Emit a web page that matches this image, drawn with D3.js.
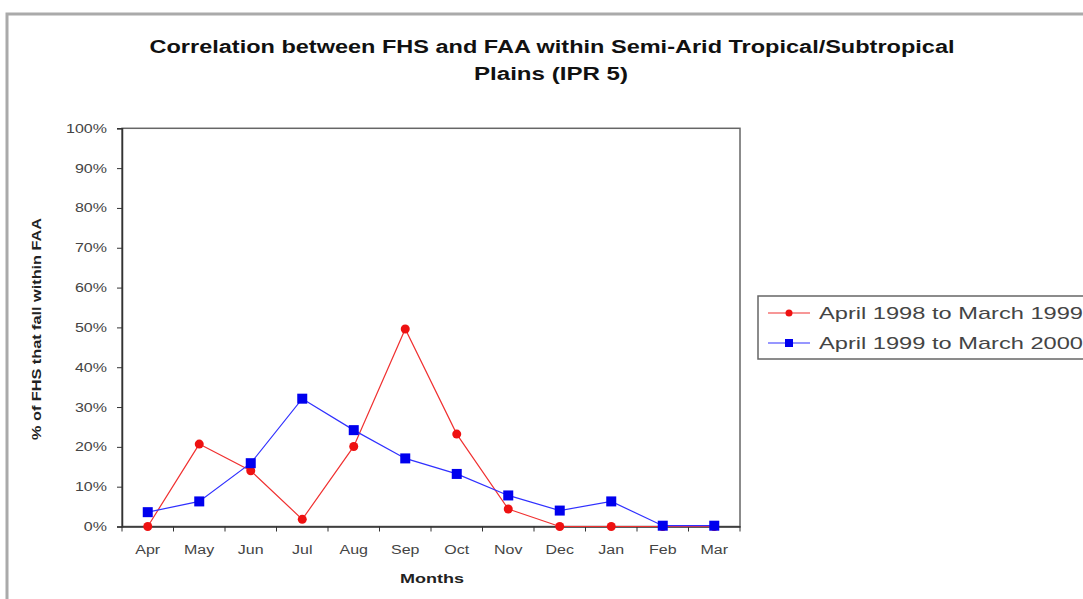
<!DOCTYPE html>
<html><head><meta charset="utf-8">
<script src="https://cdn.jsdelivr.net/npm/d3@7"></script>
<style>
body{margin:0;background:#fff;}
svg text{font-family:"Liberation Sans",Arial,sans-serif;}
</style></head>
<body><svg id="c" width="1083" height="599"></svg>
<script>
const months = ["Apr","May","Jun","Jul","Aug","Sep","Oct","Nov","Dec","Jan","Feb","Mar"];
const series1Name = "April 1998 to March 1999";
const series2Name = "April 1999 to March 2000";
const series1 = [0, 20.7, 14.0, 1.8, 20.1, 49.6, 23.2, 4.4, 0, 0, 0, 0];
const series2 = [3.6, 6.3, 15.9, 32.1, 24.2, 17.1, 13.2, 7.8, 4.0, 6.3, 0.2, 0.2];
const yTicks = [0,10,20,30,40,50,60,70,80,90,100];
const titleLines = ["Correlation between FHS and FAA within Semi-Arid Tropical/Subtropical","Plains (IPR 5)"];
const yTitle = "% of FHS that fall within FAA";
const xTitle = "Months";

const svg = d3.select("#c");
// outer frame
svg.append("path").attr("d","M7,599 V14 H1083").attr("fill","none").attr("stroke","#aaa").attr("stroke-width",3);

const L=122,R=740,T=128.3,B=526.5;
const x = d3.scaleBand().domain(months).range([L,R]);
const y = d3.scaleLinear().domain([0,100]).range([B,T]);

// plot border
svg.append("rect").attr("x",L).attr("y",T).attr("width",R-L).attr("height",B-T)
  .attr("fill","#fff").attr("stroke","#666").attr("stroke-width",1.5);

function stretch(sel, sx, origin){
  sel.style("transform-box","fill-box").style("transform-origin",origin).style("transform",`scaleX(${sx})`);
}

// y axis
const ya = svg.append("g").attr("transform",`translate(${L},0)`)
  .call(d3.axisLeft(y).tickValues(yTicks).tickFormat(d=>d+"%").tickSize(5).tickPadding(10));
ya.select(".domain").attr("stroke","#333").attr("stroke-width",1.5);
ya.selectAll(".tick line").attr("stroke","#333");
ya.selectAll("text").attr("font-size",12.5).attr("fill","#444").style("font-family","Liberation Sans, Arial");
stretch(ya.selectAll("text"),1.28,"right center");

// x axis
const xa = svg.append("g").attr("transform",`translate(0,${B})`)
  .call(d3.axisBottom(x).tickSize(0).tickPadding(19));
xa.select(".domain").attr("stroke","#333").attr("stroke-width",1.5);
xa.selectAll("text").attr("font-size",12.5).attr("fill","#444").style("font-family","Liberation Sans, Arial");
stretch(xa.selectAll("text"),1.28,"center center");
// boundary ticks
const bounds = months.map(m=>x(m)).concat([R]);
svg.append("g").selectAll("line").data(bounds).join("line")
  .attr("x1",d=>d).attr("x2",d=>d).attr("y1",B).attr("y2",B+5).attr("stroke","#333");

// lines
const line = d3.line().x((d,i)=>x(months[i])+x.bandwidth()/2).y(d=>y(d));
svg.append("path").datum(series1).attr("d",line).attr("fill","none").attr("stroke","#f03030").attr("stroke-width",1.2);
svg.append("g").selectAll("circle").data(series1).join("circle")
  .attr("cx",(d,i)=>x(months[i])+x.bandwidth()/2).attr("cy",d=>y(d)).attr("r",4.5).attr("fill","#ee1111");
svg.append("path").datum(series2).attr("d",line).attr("fill","none").attr("stroke","#3030ff").attr("stroke-width",1.2);
svg.append("g").selectAll("rect").data(series2).join("rect")
  .attr("x",(d,i)=>x(months[i])+x.bandwidth()/2-5).attr("y",d=>y(d)-5).attr("width",10).attr("height",10).attr("fill","#0000ee");

// titles
const tt = svg.append("g");
tt.append("text").attr("x",552).attr("y",53).attr("text-anchor","middle").attr("font-size",18).attr("font-weight","bold").attr("fill","#111")
  .attr("textLength",805).attr("lengthAdjust","spacingAndGlyphs").text(titleLines[0]);
tt.append("text").attr("x",551).attr("y",80).attr("text-anchor","middle").attr("font-size",18).attr("font-weight","bold").attr("fill","#111")
  .attr("textLength",154).attr("lengthAdjust","spacingAndGlyphs").text(titleLines[1]);

svg.append("text").attr("transform","translate(41,329) rotate(-90)").attr("text-anchor","middle")
  .attr("font-size",13).attr("font-weight","bold").attr("fill","#222")
  .attr("textLength",222).attr("lengthAdjust","spacingAndGlyphs").text(yTitle);
svg.append("text").attr("x",432).attr("y",583).attr("text-anchor","middle").attr("font-size",13).attr("font-weight","bold").attr("fill","#222")
  .attr("textLength",64).attr("lengthAdjust","spacingAndGlyphs").text(xTitle);

// legend
const lg = svg.append("g");
lg.append("rect").attr("x",758).attr("y",296).attr("width",340).attr("height",63).attr("fill","#fff").attr("stroke","#666").attr("stroke-width",1.5);
const items=[{n:series1Name,c:"#f03030",m:"circle",y:313},{n:series2Name,c:"#3030ff",m:"rect",y:343}];
items.forEach(it=>{
  lg.append("line").attr("x1",768).attr("x2",810).attr("y1",it.y).attr("y2",it.y).attr("stroke",it.c).attr("stroke-width",1.2);
  if(it.m==="circle") lg.append("circle").attr("cx",789).attr("cy",it.y).attr("r",3.5).attr("fill","#ee1111");
  else lg.append("rect").attr("x",785).attr("y",it.y-4).attr("width",8).attr("height",8).attr("fill","#0000ee");
  lg.append("text").attr("x",819).attr("y",it.y+6).attr("font-size",17).attr("fill","#444")
    .attr("textLength",264).attr("lengthAdjust","spacingAndGlyphs").text(it.n);
});
</script></body></html>
